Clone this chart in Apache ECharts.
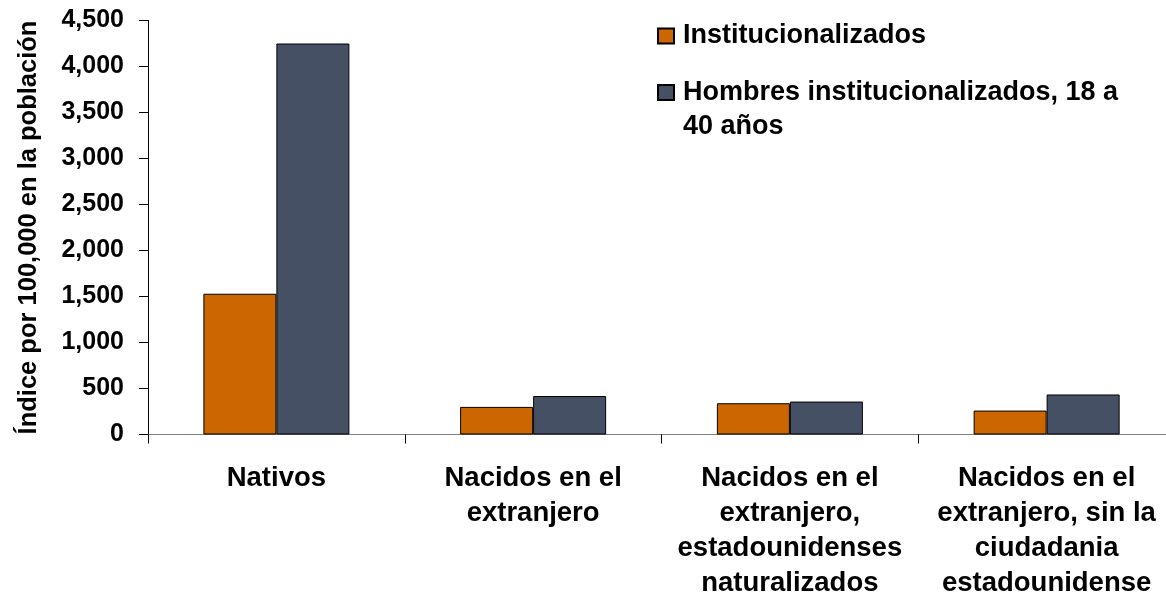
<!DOCTYPE html>
<html>
<head>
<meta charset="utf-8">
<script src="https://cdn.jsdelivr.net/npm/echarts@6/dist/echarts.min.js"></script>
<style>
  html, body { margin: 0; padding: 0; background: #fff; }
  #chart { width: 1166px; height: 596px; }
</style>
</head>
<body>
<div id="chart"></div>
<script>
// categorías (con saltos de línea como en el original)
const categorias = [
  "Nativos",
  "Nacidos en el\nextranjero",
  "Nacidos en el\nextranjero,\nestadounidenses\nnaturalizados",
  "Nacidos en el\nextranjero, sin la\nciudadania\nestadounidense"
];
const nombreSerie1 = "Institucionalizados";
const nombreSerie2 = "Hombres institucionalizados, 18 a\n40 años";
const institucionalizados = [1530, 300, 340, 260];
const hombres18a40 = [4250, 418, 358, 435];
const ejeY = { min: 0, max: 4500, interval: 500 };

const fuente = "'Liberation Sans', Arial, sans-serif";

const myChart = echarts.init(document.getElementById("chart"));

const estiloLeyenda = {
  fontFamily: fuente, fontWeight: "bold", fontSize: 27,
  lineHeight: 34, color: "#000", padding: [0, 0, 0, 4]
};

const option = {
  backgroundColor: "#fff",
  animation: false,
  textStyle: { fontFamily: fuente, fontWeight: "bold", color: "#000" },
  grid: {
    left: 148, top: 20.5, bottom: 161.5, width: 1027,
    outerBoundsMode: "none", containLabel: false
  },
  legend: [
    {
      left: 657,
      top: 19,
      padding: 0,
      orient: "vertical",
      itemWidth: 16,
      itemHeight: 15,
      icon: "rect",
      data: [nombreSerie1],
      textStyle: estiloLeyenda
    },
    {
      left: 657,
      top: 41.5,
      padding: 0,
      orient: "vertical",
      itemWidth: 16,
      itemHeight: 15,
      icon: "rect",
      data: [nombreSerie2],
      // línea vacía arriba para que la 1a línea quede junto al icono
      formatter: (n) => "\n" + n,
      textStyle: estiloLeyenda
    }
  ],
  xAxis: {
    type: "category",
    data: categorias,
    axisLine: { lineStyle: { color: "#7f7f7f", width: 1 } },
    axisTick: { show: true, length: 9, lineStyle: { color: "#000" } },
    axisLabel: {
      interval: 0,
      margin: 26,
      fontFamily: fuente,
      fontWeight: "bold",
      fontSize: 27.5,
      lineHeight: 35,
      color: "#000",
      align: "center"
    }
  },
  yAxis: {
    type: "value",
    min: ejeY.min,
    max: ejeY.max,
    interval: ejeY.interval,
    name: "Índice por 100,000 en la población",
    nameLocation: "middle",
    nameGap: 106,
    nameTextStyle: {
      fontFamily: fuente, fontWeight: "bold", fontSize: 25.5, color: "#000"
    },
    splitLine: { show: false },
    axisLine: { show: true, lineStyle: { color: "#000", width: 1 } },
    axisTick: { show: true, length: 9, lineStyle: { color: "#000" } },
    axisLabel: {
      margin: 24,
      fontFamily: fuente,
      fontWeight: "bold",
      fontSize: 25,
      color: "#000",
      formatter: (v) => v.toLocaleString("en-US")
    }
  },
  series: [
    {
      name: nombreSerie1,
      type: "bar",
      data: institucionalizados,
      barWidth: 73,
      barGap: "0%",
      itemStyle: { color: "#CC6600", borderColor: "#000", borderWidth: 1 }
    },
    {
      name: nombreSerie2,
      type: "bar",
      data: hombres18a40,
      barWidth: 73,
      barGap: "0%",
      itemStyle: { color: "#465064", borderColor: "#000", borderWidth: 1 }
    }
  ]
};

myChart.setOption(option);
</script>
</body>
</html>
